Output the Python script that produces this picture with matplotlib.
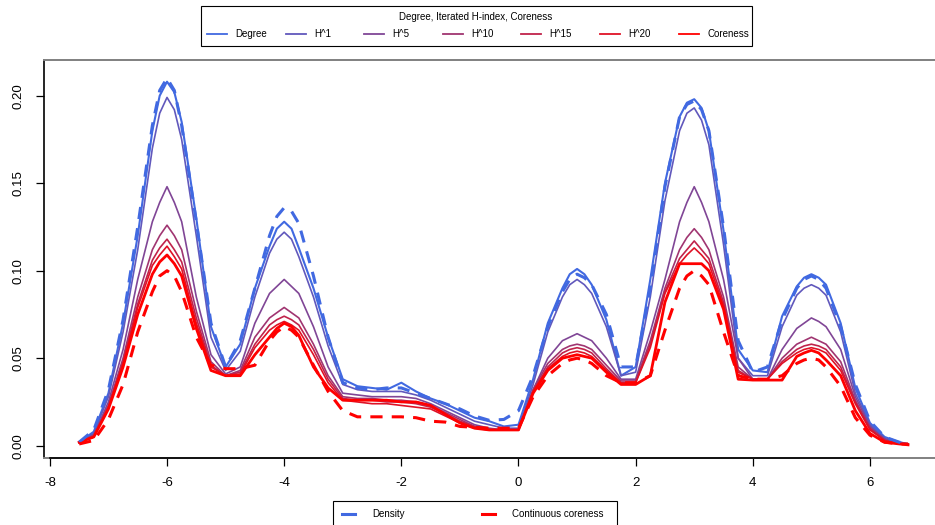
import matplotlib
matplotlib.use("Agg")
import matplotlib.pyplot as plt
from matplotlib.lines import Line2D
from matplotlib.patches import Rectangle

plt.rcParams['font.family'] = ['Liberation Sans', 'DejaVu Sans']

# x positions of the density estimates
x = [-7.5, -7.25, -7.0, -6.75, -6.5, -6.25, -6.125, -6.0, -5.875, -5.75, -5.5, -5.25, -5.0,
     -4.75, -4.5, -4.25, -4.125, -4.0, -3.875, -3.75, -3.5, -3.25, -3.0,
     -2.75, -2.5, -2.25, -2.0, -1.75, -1.5, -1.25, -1.0, -0.75, -0.5, -0.25, 0.0,
     0.25, 0.5, 0.75, 0.875, 1.0, 1.125, 1.25, 1.5, 1.75, 2.0,
     2.25, 2.5, 2.75, 2.875, 3.0, 3.125, 3.25, 3.5, 3.75, 4.0,
     4.25, 4.5, 4.75, 4.875, 5.0, 5.125, 5.25, 5.5, 5.75, 6.0, 6.25, 6.5, 6.65]

degree = [0.002, 0.008, 0.030, 0.070, 0.120, 0.180, 0.200, 0.208, 0.202, 0.185, 0.130, 0.068, 0.045,
          0.058, 0.090, 0.114, 0.124, 0.128, 0.124, 0.113, 0.090, 0.062, 0.038,
          0.034, 0.033, 0.032, 0.036, 0.031, 0.027, 0.024, 0.020, 0.016, 0.014, 0.011, 0.012,
          0.038, 0.070, 0.090, 0.098, 0.101, 0.098, 0.092, 0.072, 0.040, 0.045,
          0.095, 0.150, 0.188, 0.196, 0.198, 0.193, 0.180, 0.123, 0.055, 0.043,
          0.042, 0.074, 0.091, 0.096, 0.098, 0.096, 0.092, 0.070, 0.033, 0.013, 0.005, 0.002, 0.001]

h1 = [0.002, 0.007, 0.028, 0.065, 0.112, 0.170, 0.190, 0.199, 0.192, 0.175, 0.120, 0.062, 0.043,
      0.054, 0.085, 0.110, 0.118, 0.122, 0.118, 0.108, 0.085, 0.057, 0.035,
      0.032, 0.031, 0.031, 0.031, 0.029, 0.026, 0.022, 0.018, 0.014, 0.012, 0.010, 0.010,
      0.035, 0.065, 0.085, 0.092, 0.095, 0.092, 0.087, 0.068, 0.040, 0.042,
      0.085, 0.140, 0.180, 0.190, 0.193, 0.186, 0.172, 0.115, 0.050, 0.040,
      0.040, 0.068, 0.086, 0.090, 0.092, 0.090, 0.086, 0.065, 0.030, 0.012, 0.004, 0.002, 0.001]

h5 = [0.002, 0.006, 0.025, 0.055, 0.095, 0.128, 0.139, 0.148, 0.139, 0.128, 0.085, 0.052, 0.041,
      0.045, 0.070, 0.087, 0.091, 0.095, 0.091, 0.087, 0.068, 0.045, 0.030,
      0.029, 0.028, 0.028, 0.028, 0.027, 0.024, 0.020, 0.016, 0.012, 0.010, 0.009, 0.009,
      0.032, 0.050, 0.060, 0.062, 0.064, 0.062, 0.060, 0.050, 0.038, 0.038,
      0.065, 0.095, 0.128, 0.139, 0.148, 0.139, 0.128, 0.095, 0.050, 0.038,
      0.038, 0.055, 0.067, 0.070, 0.073, 0.071, 0.068, 0.055, 0.028, 0.011, 0.004, 0.001, 0.001]

h10 = [0.002, 0.006, 0.023, 0.050, 0.085, 0.112, 0.120, 0.126, 0.120, 0.112, 0.077, 0.048, 0.040,
       0.043, 0.062, 0.073, 0.076, 0.079, 0.076, 0.073, 0.058, 0.040, 0.028,
       0.027, 0.027, 0.026, 0.026, 0.025, 0.023, 0.019, 0.015, 0.011, 0.0095, 0.009, 0.009,
       0.032, 0.047, 0.055, 0.057, 0.058, 0.057, 0.055, 0.046, 0.037, 0.037,
       0.060, 0.090, 0.112, 0.119, 0.124, 0.119, 0.112, 0.085, 0.045, 0.038,
       0.038, 0.050, 0.058, 0.060, 0.062, 0.060, 0.058, 0.048, 0.026, 0.010, 0.003, 0.001, 0.001]

h15 = [0.002, 0.005, 0.022, 0.048, 0.081, 0.106, 0.113, 0.118, 0.112, 0.105, 0.073, 0.046, 0.040,
       0.042, 0.058, 0.069, 0.072, 0.074, 0.072, 0.069, 0.055, 0.038, 0.027,
       0.026, 0.026, 0.025, 0.025, 0.024, 0.022, 0.018, 0.014, 0.011, 0.009, 0.009, 0.009,
       0.031, 0.045, 0.053, 0.055, 0.056, 0.055, 0.053, 0.044, 0.036, 0.036,
       0.058, 0.088, 0.107, 0.112, 0.117, 0.112, 0.107, 0.082, 0.043, 0.038,
       0.038, 0.048, 0.055, 0.057, 0.058, 0.057, 0.055, 0.045, 0.025, 0.010, 0.003, 0.001, 0.001]

h20 = [0.002, 0.005, 0.022, 0.047, 0.079, 0.103, 0.109, 0.114, 0.108, 0.101, 0.070, 0.045, 0.040,
       0.041, 0.056, 0.066, 0.069, 0.071, 0.069, 0.066, 0.052, 0.036, 0.026,
       0.025, 0.024, 0.024, 0.023, 0.022, 0.021, 0.017, 0.013, 0.010, 0.009, 0.009, 0.009,
       0.031, 0.044, 0.051, 0.053, 0.054, 0.053, 0.051, 0.043, 0.036, 0.036,
       0.056, 0.087, 0.104, 0.109, 0.113, 0.109, 0.104, 0.080, 0.042, 0.038,
       0.038, 0.047, 0.053, 0.055, 0.056, 0.055, 0.053, 0.043, 0.024, 0.009, 0.003, 0.001, 0.001]

coreness = [0.002, 0.005, 0.021, 0.045, 0.075, 0.098, 0.105, 0.109, 0.104, 0.097, 0.067, 0.043, 0.040,
            0.040, 0.052, 0.062, 0.067, 0.070, 0.068, 0.063, 0.045, 0.033, 0.026,
            0.026, 0.026, 0.026, 0.025, 0.025, 0.023, 0.018, 0.013, 0.010, 0.009, 0.009, 0.009,
            0.030, 0.043, 0.050, 0.051, 0.052, 0.051, 0.050, 0.042, 0.035, 0.035,
            0.040, 0.082, 0.104, 0.104, 0.104, 0.104, 0.100, 0.078, 0.038, 0.0375,
            0.0375, 0.0375, 0.051, 0.053, 0.0545, 0.053, 0.049, 0.040, 0.020, 0.007, 0.002, 0.001, 0.0005]

density = [0.002, 0.009, 0.032, 0.072, 0.125, 0.183, 0.203, 0.210, 0.203, 0.183, 0.128, 0.070, 0.045,
           0.060, 0.090, 0.120, 0.131, 0.136, 0.134, 0.127, 0.097, 0.062, 0.036,
           0.033, 0.032, 0.033, 0.033, 0.030, 0.027, 0.024, 0.021, 0.017, 0.0145, 0.015, 0.020,
           0.040, 0.068, 0.088, 0.095, 0.098, 0.096, 0.092, 0.075, 0.045, 0.045,
           0.090, 0.148, 0.188, 0.195, 0.197, 0.192, 0.180, 0.125, 0.060, 0.042,
           0.045, 0.072, 0.090, 0.095, 0.097, 0.095, 0.090, 0.068, 0.035, 0.014, 0.005, 0.002, 0.001]

cont_coreness = [0.001, 0.003, 0.015, 0.035, 0.065, 0.088, 0.097, 0.100, 0.097, 0.088, 0.062, 0.046, 0.044,
                 0.044, 0.046, 0.060, 0.065, 0.068, 0.066, 0.062, 0.046, 0.031, 0.020,
                 0.0165, 0.0165, 0.0165, 0.0165, 0.016, 0.014, 0.0135, 0.011, 0.0105, 0.010, 0.010, 0.010,
                 0.028, 0.040, 0.047, 0.049, 0.050, 0.049, 0.047, 0.040, 0.036, 0.036,
                 0.040, 0.066, 0.090, 0.097, 0.100, 0.097, 0.092, 0.065, 0.040, 0.038,
                 0.038, 0.040, 0.047, 0.049, 0.050, 0.049, 0.045, 0.034, 0.016, 0.006, 0.002, 0.001, 0.001]

solid_labels = ['Degree', 'H^1', 'H^5', 'H^10', 'H^15', 'H^20', 'Coreness']
solid_series = [degree, h1, h5, h10, h15, h20, coreness]
# royalblue -> red ramp
solid_colors = ['#4169E1', '#6158BC', '#804696', '#A03571', '#C0234B', '#DF1226', '#FF0000']
solid_widths = [1.5, 1.2, 1.2, 1.2, 1.2, 1.2, 2.0]

dash_labels = ['Density', 'Continuous coreness']
dash_series = [density, cont_coreness]
dash_colors = ['#4169E1', '#FF0000']

W, H = 935, 525
fig = plt.figure(figsize=(W / 100, H / 100), dpi=100)
ax = fig.add_axes([44 / W, (H - 458) / H, 1 - 44 / W, (458 - 60) / H])

for ys, c, lw in zip(solid_series, solid_colors, solid_widths):
    ax.plot(x, ys, color=c, lw=lw, solid_joinstyle='round')
for ys, c in zip(dash_series, dash_colors):
    ax.plot(x, ys, color=c, lw=2.2, dashes=(4, 3))

ax.set_xlim(-8.1, -8 + (W - 50) / 58.57)
ax.set_ylim(-(458 - 445.7) / 1750, (445.7 - 60) / 1750)

ax.set_xticks([-8, -6, -4, -2, 0, 2, 4, 6])
ax.set_xticklabels(['-8', '-6', '-4', '-2', '0', '2', '4', '6'])
ax.set_yticks([0.0, 0.05, 0.10, 0.15, 0.20])
ax.set_yticklabels(['0.00', '0.05', '0.10', '0.15', '0.20'], rotation=90, va='center')
ax.tick_params(direction='out', length=6, width=0.9, labelsize=9.5, pad=8, colors='black')

ax.spines['right'].set_visible(False)
ax.spines['top'].set_color('#808080')
ax.spines['top'].set_linewidth(1.4)
ax.spines['bottom'].set_color('#808080')
ax.spines['bottom'].set_linewidth(1.4)
ax.spines['left'].set_color('black')
ax.spines['left'].set_linewidth(1.2)
ax.plot([-8, 6], [ax.get_ylim()[0]] * 2, color='black', lw=1.2, clip_on=False, zorder=5)


def fx(px):
    return px / W


def fy(py):
    return 1 - py / H


# top legend
fig.patches.append(Rectangle((fx(201), fy(46)), fx(752) - fx(201), fy(6) - fy(46),
                             transform=fig.transFigure, fill=False, ec='black', lw=0.8))
fig.text(fx(476), fy(17), 'Degree, Iterated H-index, Coreness', ha='center', va='center', fontsize=7)
handle_x = [207, 286, 364, 443, 521, 600, 679]
for hx, lab, c in zip(handle_x, solid_labels, solid_colors):
    fig.lines.append(Line2D([fx(hx), fx(hx + 20)], [fy(34), fy(34)], transform=fig.transFigure,
                            color=c, lw=1.3))
    fig.text(fx(hx + 28), fy(34), lab, ha='left', va='center', fontsize=7)

# bottom legend
fig.patches.append(Rectangle((fx(333), fy(530)), fx(617) - fx(333), fy(501) - fy(530),
                             transform=fig.transFigure, fill=False, ec='black', lw=0.8,
                             clip_on=False))
for hx, tx, lab, c in zip([342, 482], [372, 512], dash_labels, dash_colors):
    fig.lines.append(Line2D([fx(hx), fx(hx + 13)], [fy(514), fy(514)], transform=fig.transFigure,
                            color=c, lw=2.2))
    fig.text(fx(tx), fy(514), lab, ha='left', va='center', fontsize=7)

fig.savefig('out.png', dpi=100)
